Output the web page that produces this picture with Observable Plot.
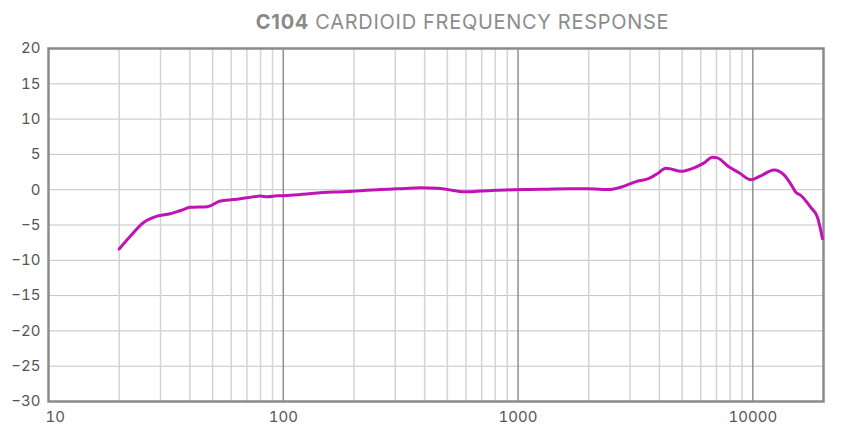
<!DOCTYPE html>
<html>
<head>
<meta charset="utf-8">
<script src="https://cdn.jsdelivr.net/npm/d3@7"></script>
<script src="https://cdn.jsdelivr.net/npm/@observablehq/plot@0.6"></script>
<style>
  html, body { margin: 0; padding: 0; background: #fff; }
  #title {
    height: 38px; line-height: 44px; text-align: center;
    font-family: Inter, "Open Sans", sans-serif; font-size: 20px;
    color: #8c8c8c; letter-spacing: 0.7px; white-space: nowrap;
    padding-left: 84px; box-sizing: border-box; width: 841px;
  }
  #title b { font-weight: 700; color: #8a8a8a; }
</style>
</head>
<body>
<div id="title"><b>C104</b> CARDIOID FREQUENCY RESPONSE</div>
<div id="chart"></div>
<script>
const freq = [20, 22.3, 25.5, 27.2, 29, 33, 36.5, 40.3, 47.5, 54, 61.6, 70, 80, 85.5, 94, 104, 135, 187, 260, 306, 385, 453, 500, 588, 692, 961, 1132, 1333, 1676, 1973, 2480, 2735, 3222, 3612, 3920, 4254, 4467, 4930, 5620, 6200, 6730, 7070, 7930, 8740, 9800, 10800, 12300, 13580, 14450, 15240, 16000, 17650, 18850, 19800];
const response = [-8.4, -6.6, -4.6, -4.1, -3.75, -3.4, -2.95, -2.5, -2.4, -1.6, -1.4, -1.15, -0.9, -1.0, -0.87, -0.82, -0.5, -0.25, 0.03, 0.12, 0.27, 0.2, 0.03, -0.3, -0.2, 0, 0.03, 0.07, 0.12, 0.12, 0.03, 0.35, 1.2, 1.6, 2.25, 3.05, 2.95, 2.6, 3.1, 3.8, 4.6, 4.5, 3.2, 2.4, 1.4, 1.95, 2.8, 2.1, 0.9, -0.35, -0.8, -2.5, -3.9, -6.95];

const xTickLabels = [10, 100, 1000, 10000];
const yTicks = [-30, -25, -20, -15, -10, -5, 0, 5, 10, 15, 20];
const minorGrid = [20, 30, 40, 50, 60, 70, 80, 90, 200, 300, 400, 500, 600, 700, 800, 900, 2000, 3000, 4000, 5000, 6000, 7000, 8000, 9000];
const majorGrid = [100, 1000, 10000];

const data = freq.map((f, i) => ({f, v: response[i]}));

const font = "Inter, 'Open Sans', sans-serif";

const chart = Plot.plot({
  width: 841,
  height: 392,
  marginTop: 10,
  marginBottom: 29,
  marginLeft: 48,
  marginRight: 18,
  style: {fontFamily: font, fontSize: "14px", color: "#555", background: "#fff"},
  x: {type: "log", domain: [10, 20000], axis: null, label: null},
  y: {domain: [-30, 20], axis: null, label: null},
  marks: [
    Plot.ruleY(yTicks.filter(d => d > -30 && d < 20), {stroke: "#c4c4c4", strokeWidth: 1}),
    Plot.ruleX(minorGrid, {stroke: "#d4d4d4", strokeWidth: 1.5}),
    Plot.ruleX(majorGrid, {stroke: "#8f8f8f", strokeWidth: 1.5}),
    Plot.frame({stroke: "#8a8a8a", strokeWidth: 2.5}),
    Plot.axisY({ticks: yTicks, tickSize: 0, tickPadding: 8, fontSize: 15, fill: "#555", label: null}),
    Plot.axisX({ticks: xTickLabels.slice(1), tickSize: 0, tickPadding: 10, tickFormat: d3.format("d"), fontSize: 15, fill: "#555", label: null}),
    Plot.axisX({ticks: xTickLabels.slice(0, 1), tickSize: 0, tickPadding: 10, tickFormat: d3.format("d"), textAnchor: "start", dx: -3, fontSize: 15, fill: "#555", label: null}),
    Plot.line(data, {x: "f", y: "v", stroke: "#c013b5", strokeWidth: 3, curve: "monotone-x"})
  ]
});
document.getElementById("chart").appendChild(chart);
</script>
</body>
</html>
